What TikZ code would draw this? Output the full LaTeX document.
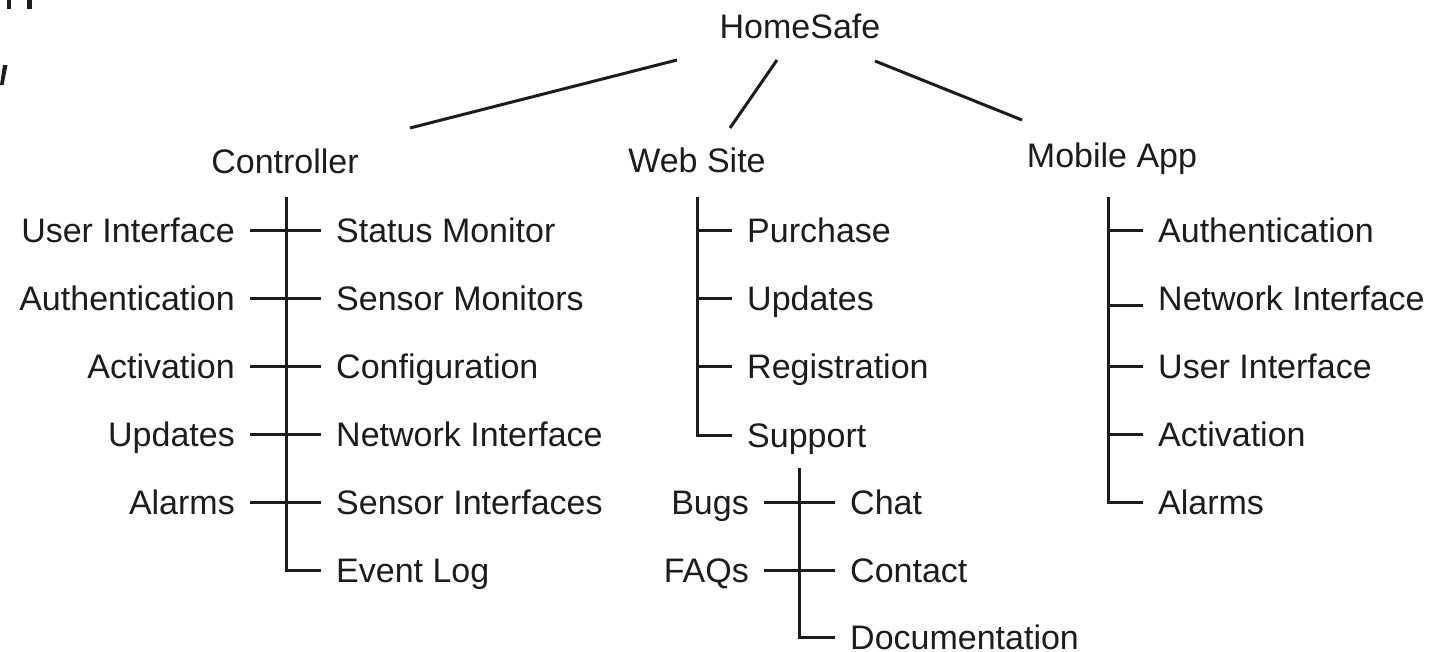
\documentclass[tikz,border=0pt]{standalone}
\usepackage{fontspec}
\setmainfont{Liberation Sans}
\definecolor{ink}{RGB}{28,28,28}
\begin{document}
\begin{tikzpicture}[x=1pt,y=-1pt,
  lbl/.style={inner xsep=15pt,inner ysep=0pt,text height=24pt,text depth=0pt,
              text=ink,font=\fontsize{34}{40}\selectfont},
  title/.style={lbl,inner xsep=0pt},
  ln/.style={draw=ink,line width=3pt,line join=miter},
  frag/.style={fill=ink,draw=none}]
\useasboundingbox (0,0) rectangle (1432,651);
% cut-off fragments at the top-left edge
\fill[frag] (7,0) rectangle (11,9);
\fill[frag] (27,0) rectangle (32,9);
\fill[frag] (3,65) -- (7.5,65) -- (3.5,85) -- (0,85) -- cycle;

% top level
\node[title] (home) at (800,26) {HomeSafe};
\node[title] (ctl) at (285,161) {Controller};
\node[title] (web) at (697,160) {Web Site};
\node[title] (mob) at (1112,155) {Mobile App};
\coordinate (hsl) at (677,60);  \coordinate (ctlin) at (410,128);
\coordinate (hsm) at (777,60);  \coordinate (webin) at (730,128);
\coordinate (hsr) at (875,61);  \coordinate (mobin) at (1022,120);
\draw[ln] (hsl) -- (ctlin);
\draw[ln] (hsm) -- (webin);
\draw[ln] (hsr) -- (mobin);

% Controller
\coordinate (ctop) at (286,197);
\node[lbl,anchor=east] (c-ui)  at (250,230) {User Interface};
\node[lbl,anchor=east] (c-au)  at (250,298) {Authentication};
\node[lbl,anchor=east] (c-ac)  at (250,366) {Activation};
\node[lbl,anchor=east] (c-up)  at (250,434) {Updates};
\node[lbl,anchor=east] (c-al)  at (250,502) {Alarms};
\node[lbl,anchor=west] (c-sm)  at (321,230) {Status Monitor};
\node[lbl,anchor=west] (c-sn)  at (321,298) {Sensor Monitors};
\node[lbl,anchor=west] (c-cf)  at (321,366) {Configuration};
\node[lbl,anchor=west] (c-ni)  at (321,434) {Network Interface};
\node[lbl,anchor=west] (c-si)  at (321,502) {Sensor Interfaces};
\node[lbl,anchor=west] (c-el)  at (321,570) {Event Log};
\draw[ln] (ctop) |- (c-el.west);
\draw[ln] (c-ui.east) -- (c-sm.west);
\draw[ln] (c-au.east) -- (c-sn.west);
\draw[ln] (c-ac.east) -- (c-cf.west);
\draw[ln] (c-up.east) -- (c-ni.west);
\draw[ln] (c-al.east) -- (c-si.west);

% Web Site
\coordinate (wtop) at (697,197);
\node[lbl,anchor=west] (w-pu) at (732,230) {Purchase};
\node[lbl,anchor=west] (w-up) at (732,298) {Updates};
\node[lbl,anchor=west] (w-re) at (732,366) {Registration};
\node[lbl,anchor=west] (w-su) at (732,435) {Support};
\draw[ln] (wtop) |- (w-su.west);
\draw[ln] (wtop |- w-pu.west) -- (w-pu.west);
\draw[ln] (wtop |- w-up.west) -- (w-up.west);
\draw[ln] (wtop |- w-re.west) -- (w-re.west);

% Support
\coordinate (stop) at (799,468);
\node[lbl,anchor=east] (s-bu) at (764,502) {Bugs};
\node[lbl,anchor=east] (s-fa) at (764,570) {FAQs};
\node[lbl,anchor=west] (s-ch) at (835,502) {Chat};
\node[lbl,anchor=west] (s-co) at (835,570) {Contact};
\node[lbl,anchor=west] (s-do) at (835,637) {Documentation};
\draw[ln] (stop) |- (s-do.west);
\draw[ln] (s-bu.east) -- (s-ch.west);
\draw[ln] (s-fa.east) -- (s-co.west);

% Mobile App
\coordinate (mtop) at (1108,197);
\node[lbl,anchor=west] (m-au) at (1143,230) {Authentication};
\node[lbl,anchor=west] (m-ni) at (1143,298) {Network Interface};
\node[lbl,anchor=west] (m-ui) at (1143,366) {User Interface};
\node[lbl,anchor=west] (m-ac) at (1143,434) {Activation};
\node[lbl,anchor=west] (m-al) at (1143,502) {Alarms};
\coordinate (mnij) at (1108,305);
\draw[ln] (mtop) |- (m-al.west);
\draw[ln] (mtop |- m-au.west) -- (m-au.west);
\draw[ln] (mnij) -- (m-ni.west |- mnij);
\draw[ln] (mtop |- m-ui.west) -- (m-ui.west);
\draw[ln] (mtop |- m-ac.west) -- (m-ac.west);
\end{tikzpicture}
\end{document}
